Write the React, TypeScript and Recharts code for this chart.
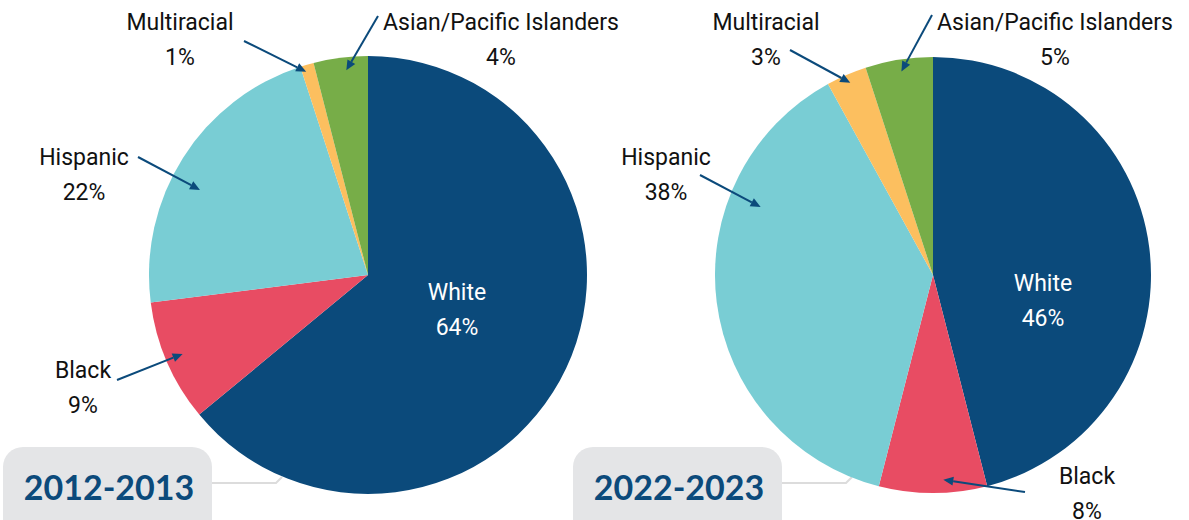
import { Cell, Pie, PieChart } from 'recharts';

const CATEGORIES = ['White', 'Black', 'Hispanic', 'Multiracial', 'Asian/Pacific Islanders'];
const SHARE_2012 = [64, 9, 22, 1, 4];
const SHARE_2022 = [46, 8, 38, 3, 5];
const YEARS = ['2012-2013', '2022-2023'];

const COLORS = ['#0b4a7b', '#e84c63', '#79cdd4', '#fcbf5f', '#77ad48'];
const ARROW = '#0b4a7b';
const RADIAN = Math.PI / 180;

type LabelSpot = {
  tx: number;
  ty: number;
  tail?: [number, number];
  t?: number;
  rho?: number;
  light?: boolean;
};

// label placement, relative to each pie's centre
const LEFT_SPOTS: LabelSpot[] = [
  { tx: 89, ty: 17, light: true },
  { tx: -285, ty: 95, tail: [-251, 105], t: 0.51, rho: 0.92 },
  { tx: -284, ty: -118, tail: [-230, -118], t: 0.43, rho: 0.86 },
  { tx: -188, ty: -253, tail: [-124, -234], t: 0.3, rho: 0.97 },
  { tx: 133, ty: -253, tail: [10, -259], t: 0.58, rho: 0.94 },
];

const RIGHT_SPOTS: LabelSpot[] = [
  { tx: 110, ty: 8, light: true },
  { tx: 154, ty: 201, tail: [92, 217], t: 0.4, rho: 0.94 },
  { tx: -267, ty: -118, tail: [-233, -100], t: 0.71, rho: 0.85 },
  { tx: -167, ty: -253, tail: [-143, -225], t: 0.51, rho: 0.96 },
  { tx: 122, ty: -253, tail: [-1, -260], t: 0.51, rho: 0.945 },
];

const toRows = (shares: number[]) => CATEGORIES.map((name, i) => ({ name, value: shares[i] }));

const makeLabel = (spots: LabelSpot[]) => (props: any) => {
  const { cx, cy, index, startAngle, endAngle, outerRadius, name, value } = props;
  const spot = spots[index];
  const x = cx + spot.tx;
  const y = cy + spot.ty;
  let arrow = null;
  if (spot.tail) {
    const angle = startAngle + (spot.t ?? 0.5) * (endAngle - startAngle);
    const r = outerRadius * (spot.rho ?? 0.9);
    const tipX = cx + Math.cos(-angle * RADIAN) * r;
    const tipY = cy + Math.sin(-angle * RADIAN) * r;
    const tailX = cx + spot.tail[0];
    const tailY = cy + spot.tail[1];
    const len = Math.hypot(tipX - tailX, tipY - tailY);
    const ux = (tipX - tailX) / len;
    const uy = (tipY - tailY) / len;
    const baseX = tipX - ux * 10;
    const baseY = tipY - uy * 10;
    arrow = (
      <g>
        <line x1={tailX} y1={tailY} x2={baseX} y2={baseY} stroke={ARROW} strokeWidth={2} />
        <polygon
          points={`${tipX},${tipY} ${baseX - uy * 4.5},${baseY + ux * 4.5} ${baseX + uy * 4.5},${baseY - ux * 4.5}`}
          fill={ARROW}
        />
      </g>
    );
  }
  return (
    <g>
      {arrow}
      <text
        x={x}
        y={y}
        textAnchor="middle"
        dominantBaseline="central"
        fontFamily="Roboto, 'Noto Sans', sans-serif"
        fontSize={23}
        fill={spot.light ? '#ffffff' : '#111111'}
      >
        <tspan x={x} y={y}>{name}</tspan>
        <tspan x={x} y={y + 35}>{`${value}%`}</tspan>
      </text>
    </g>
  );
};

function YearTag({ x, text, lineTo }: { x: number; text: string; lineTo: number }) {
  return (
    <g>
      <polyline
        points={`${x + 209},483 ${lineTo},483 ${lineTo + 6},477`}
        fill="none"
        stroke="#dcdcdc"
        strokeWidth={2}
      />
      <rect x={x} y={447} width={209} height={100} rx={20} fill="#e4e5e7" />
      <text
        x={x + 106}
        y={500}
        textAnchor="middle"
        fontFamily="Lato, sans-serif"
        fontWeight={700}
        fontSize={34}
        fill="#0b4a7b"
      >
        {text}
      </text>
    </g>
  );
}

export default function App() {
  return (
    <div style={{ position: 'absolute', left: 0, top: 0, width: 1189, height: 520, background: '#fff', overflow: 'hidden' }}>
      <svg width={1189} height={520} style={{ position: 'absolute', left: 0, top: 0 }}>
        <YearTag x={3} text={YEARS[0]} lineTo={276} />
        <YearTag x={573} text={YEARS[1]} lineTo={846} />
      </svg>
      <div style={{ position: 'absolute', left: 0, top: 0 }}>
        <PieChart width={1189} height={520} margin={{ top: 0, right: 0, bottom: 0, left: 0 }}>
          <Pie
            data={toRows(SHARE_2012)}
            dataKey="value"
            nameKey="name"
            cx={368}
            cy={275}
            outerRadius={219}
            startAngle={90}
            endAngle={-270}
            stroke="none"
            labelLine={false}
            label={makeLabel(LEFT_SPOTS)}
            isAnimationActive={false}
          >
            {CATEGORIES.map((c, i) => (
              <Cell key={c} fill={COLORS[i]} />
            ))}
          </Pie>
          <Pie
            data={toRows(SHARE_2022)}
            dataKey="value"
            nameKey="name"
            cx={933}
            cy={275}
            outerRadius={218}
            startAngle={90}
            endAngle={-270}
            stroke="none"
            labelLine={false}
            label={makeLabel(RIGHT_SPOTS)}
            isAnimationActive={false}
          >
            {CATEGORIES.map((c, i) => (
              <Cell key={c} fill={COLORS[i]} />
            ))}
          </Pie>
        </PieChart>
      </div>
    </div>
  );
}
